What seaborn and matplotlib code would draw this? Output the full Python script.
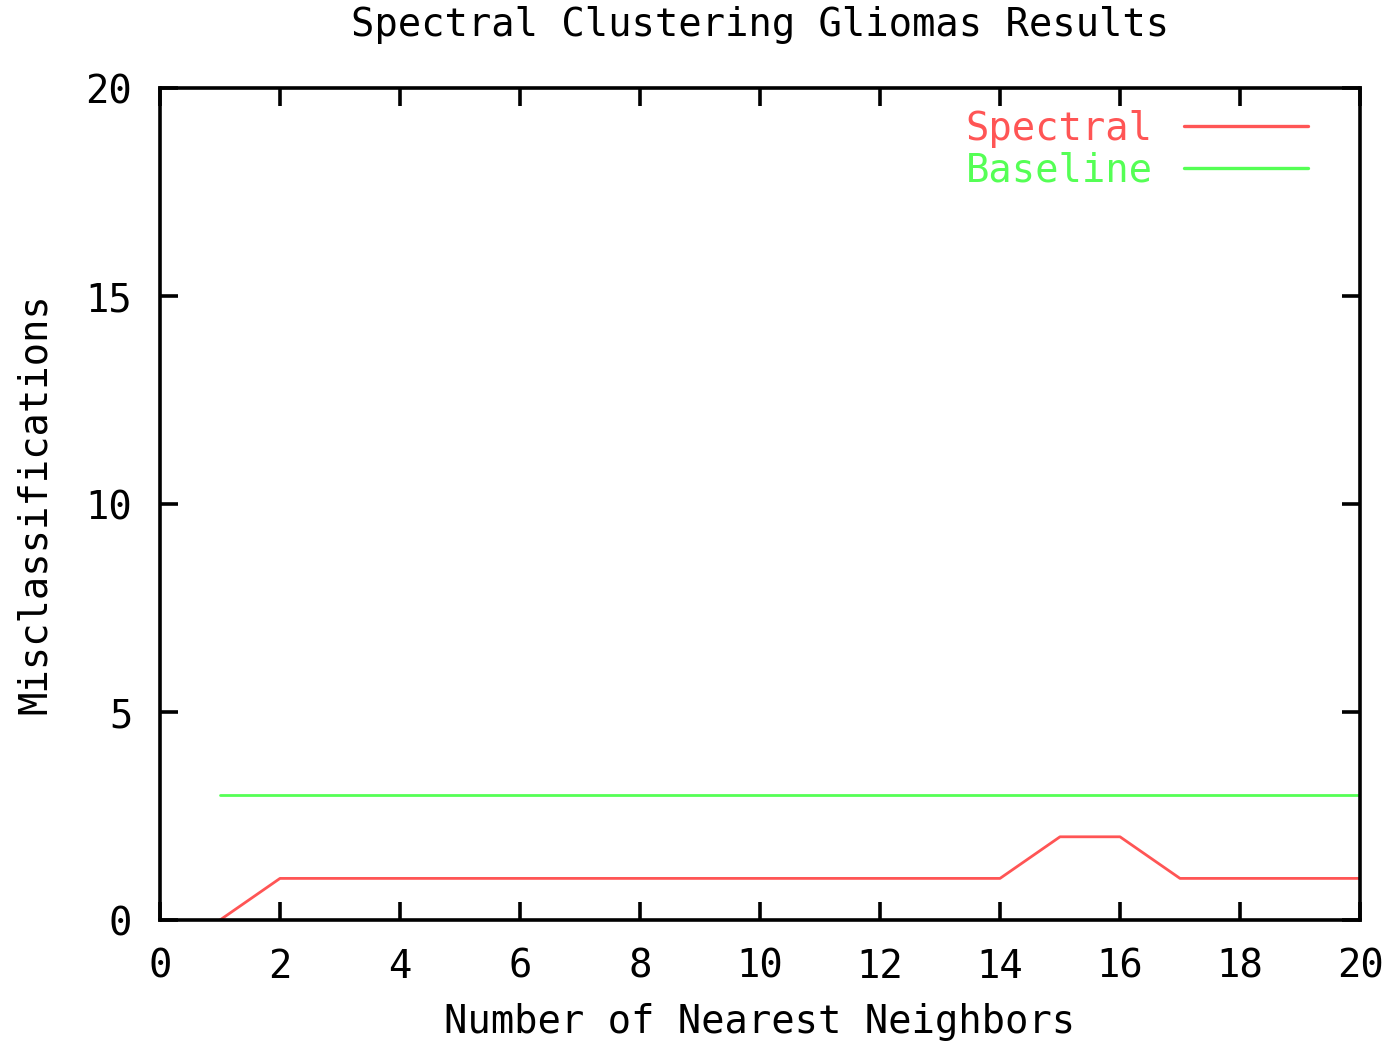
import matplotlib
matplotlib.use("Agg")
import matplotlib.pyplot as plt
import seaborn as sns
import pandas as pd

neighbors = list(range(1, 21))
spectral = [0, 1, 1, 1, 1, 1, 1, 1, 1, 1, 1, 1, 1, 1, 2, 2, 1, 1, 1, 1]
baseline = [3] * 20
series_names = ["Spectral", "Baseline"]
colors = ["#ff5555", "#55ff55"]
x_ticks = list(range(0, 21, 2))
y_ticks = list(range(0, 21, 5))

df = pd.DataFrame({
    "k": neighbors * 2,
    "value": spectral + baseline,
    "series": [series_names[0]] * 20 + [series_names[1]] * 20,
})

sns.set_theme(style="white")
FONT = ["DejaVu Sans Mono"]
plt.rcParams["font.family"] = FONT
plt.rcParams["text.color"] = "black"
plt.rcParams["axes.labelcolor"] = "black"
FS = 28

fig = plt.figure(figsize=(13.85, 10.42), dpi=100)
ax = fig.add_axes([160 / 1385, 1 - 920 / 1042, 1200 / 1385, 832 / 1042])

sns.lineplot(data=df, x="k", y="value", hue="series", palette=colors,
             hue_order=series_names, linewidth=2.0, ax=ax, legend=True)

ax.set_xlim(0, 20)
ax.set_ylim(0, 20)
ax.set_xticks(x_ticks)
ax.set_yticks(y_ticks)
ax.tick_params(direction="in", length=13, width=2.6, top=True, right=True,
               bottom=True, left=True,
               labelsize=FS, pad=20, colors="black")
for s in ax.spines.values():
    s.set_visible(True)
    s.set_color("black")
    s.set_linewidth(2.6)

ax.set_xlabel("Number of Nearest Neighbors", fontsize=FS, color="black")
ax.set_ylabel("Misclassifications", fontsize=FS, color="black")
ax.xaxis.set_label_coords(0.5, (920 - 1022) / 832)
ax.yaxis.label.set_va("center")
ax.xaxis.label.set_va("center")
ax.yaxis.set_label_coords((35 - 160) / 1200, 0.5)
fig.text(760 / 1385, 1 - 25 / 1042, "Spectral Clustering Gliomas Results",
         fontsize=FS, ha="center", va="center", color="black")

handles, labels = ax.get_legend_handles_labels()
leg = ax.legend(handles, labels, loc="upper right", frameon=False,
                markerfirst=False, labelcolor="linecolor", fontsize=FS,
                handlelength=3.2, handletextpad=0.8, labelspacing=0.09,
                borderpad=0, borderaxespad=0,
                bbox_to_anchor=((1308 - 160) / 1200, (920 - 110) / 832))
for line in leg.get_lines():
    line.set_linewidth(2.4)

fig.savefig("out.png", dpi=100, facecolor="white")
